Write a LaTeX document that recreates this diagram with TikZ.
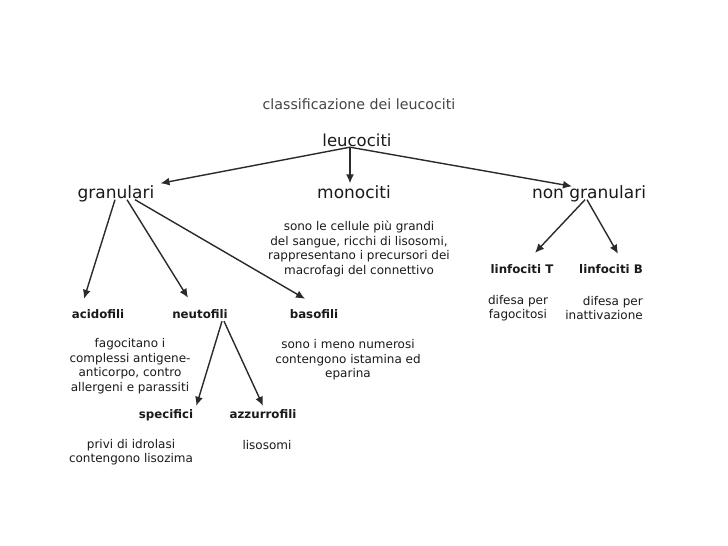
\documentclass[tikz,border=0pt]{standalone}
\usepackage{fontspec}
\setmainfont{DejaVu Sans}
\usetikzlibrary{arrows.meta}
\definecolor{ink}{HTML}{1A1A1A}
\definecolor{titlegray}{HTML}{454545}
\definecolor{linegray}{HTML}{2A2A2A}
\tikzset{
  lbl/.style={inner sep=0pt, text=ink, text height=0.76em, text depth=0.24em},
  body/.style={inner sep=0pt, text=ink, align=center, font=\fontsize{12}{14.6}\selectfont},
  big/.style={lbl, font=\fontsize{17}{20}\selectfont},
  sub/.style={lbl, font=\fontsize{11.8}{14}\selectfont\bfseries},
  arr/.style={draw=linegray, line width=1.4pt, -{Latex[length=9pt,width=8pt]}}
}
\begin{document}
\begin{tikzpicture}[x=1pt,y=-1pt]
\useasboundingbox[fill=white] (0,0) rectangle (728,546);
% title
\node[lbl, text=titlegray, font=\fontsize{14.2}{17}\selectfont] (title) at (359,107) {classificazione dei leucociti};
\node[lbl, font=\fontsize{16.5}{20}\selectfont] (leuc) at (357,144) {leucociti};
\coordinate (hub) at ([xshift=-7pt,yshift=2pt]leuc.south);
% level 1
\node[big] (gran) at (116,196) {granulari};
\node[big] (mono) at (354,196) {monociti};
\node[big] (nongran) at (589,196) {non granulari};
\node[body] (monodesc) at (359,249) {sono le cellule più grandi\\del sangue, ricchi di lisosomi,\\rappresentano i precursori dei\\macrofagi del connettivo};
% level 2
\node[sub] (acid) at (98,316) {acidofili};
\node[sub] (neuto) at (200,316) {neutofili};
\node[sub] (baso) at (314,316) {basofili};
\node[body] (aciddesc) at (130,366) {fagocitano i\\complessi antigene-\\anticorpo, contro\\allergeni e parassiti};
\node[body] (basodesc) at (348,360) {sono i meno numerosi\\contengono istamina ed\\eparina};
\node[sub] (linT) at (522,271) {linfociti T};
\node[sub] (linB) at (611,271) {linfociti B};
\node[body] (linTdesc) at (518,308) {difesa per\\fagocitosi};
\node[body, align=right, anchor=east] (linBdesc) at (643,308) {difesa per\\inattivazione};
% level 3
\node[sub] (spec) at (166,416) {specifici};
\node[sub] (azz) at (263,416) {azzurrofili};
\node[body] (specdesc) at (131,452) {privi di idrolasi\\contengono lisozima};
\node[body] (azzdesc) at (267,445) {lisosomi};
% connectors
\draw[arr] (hub) -- ([xshift=6pt,yshift=7.5pt]gran.north east);
\draw[arr] (hub) -- ([xshift=-4pt,yshift=7.5pt]mono.north);
\draw[arr] (hub) -- ([xshift=-17pt,yshift=4.5pt]nongran.north);
\draw[arr] ([xshift=-1pt,yshift=1.5pt]gran.south) -- ([xshift=-14pt,yshift=12pt]acid.north);
\draw[arr] ([xshift=11pt,yshift=1.5pt]gran.south) -- ([xshift=-12pt,yshift=13pt]neuto.north);
\draw[arr] ([xshift=19pt,yshift=1.5pt]gran.south) -- ([xshift=-9pt,yshift=12pt]baso.north);
\draw[arr] ([xshift=22pt]neuto.south) -- ([xshift=3pt,yshift=5pt]spec.north east);
\draw[arr] ([xshift=24pt]neuto.south) -- ([yshift=5pt]azz.north);
\draw[arr] ([xshift=-4pt,yshift=1.5pt]nongran.south) -- ([xshift=13pt,yshift=13pt]linT.north);
\draw[arr] ([xshift=-2pt,yshift=1.5pt]nongran.south) -- ([xshift=7pt,yshift=12pt]linB.north);
\end{tikzpicture}
\end{document}
